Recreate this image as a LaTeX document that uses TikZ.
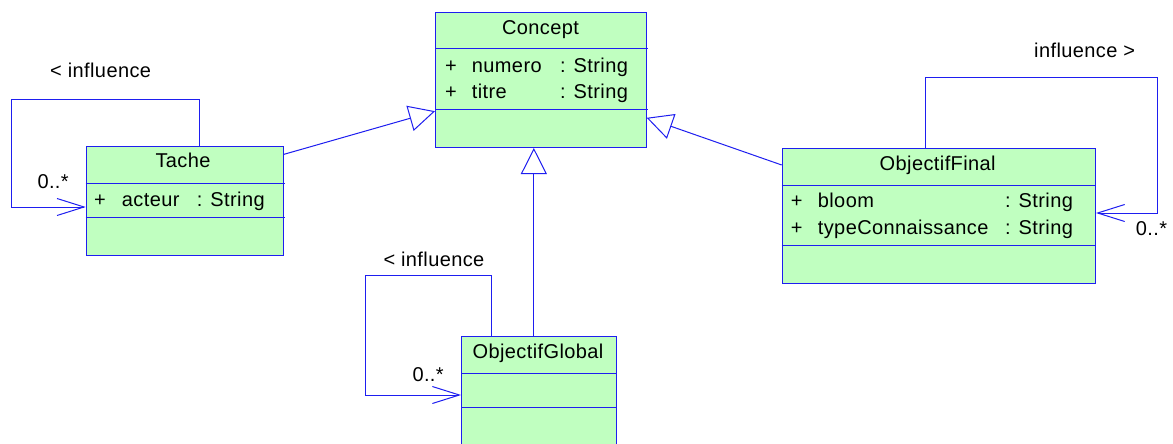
\documentclass[tikz,border=0pt]{standalone}
\usepackage{fontspec}
\setmainfont[LetterSpace=2]{Liberation Sans}
\usetikzlibrary{arrows.meta}
\definecolor{umlgreen}{RGB}{192,255,192}
\definecolor{umlblue}{RGB}{30,30,240}
\tikzset{
  classbox/.style={draw=umlblue, fill=umlgreen, line width=1pt, inner sep=0pt, anchor=north west},
  divider/.style={draw=umlblue, line width=1pt},
  txt/.style={inner sep=0pt, anchor=base west, font=\fontsize{20}{22}\selectfont},
  ttl/.style={inner sep=0pt, anchor=base, font=\fontsize{20}{22}\selectfont},
  gen/.style={draw=umlblue, line width=1pt, -{Triangle[open, length=26pt, width=26pt, fill=white]}},
  assoc/.style={draw=umlblue, line width=1pt, -{Straight Barb[length=27pt, width=17pt]}},
}
\begin{document}
\begin{tikzpicture}[x=1pt,y=-1pt]
\clip (0,0) rectangle (1173,444);
\fill[white] (0,0) rectangle (1173,444);

% class boxes
\node[classbox, minimum width=210.7pt, minimum height=135pt] (concept) at (435,12) {};
\node[classbox, minimum width=197.3pt, minimum height=109.3pt] (tache) at (85.7,145.7) {};
\node[classbox, minimum width=313.3pt, minimum height=135pt] (of) at (781.7,147.7) {};
\node[classbox, minimum width=154.7pt, minimum height=130pt] (og) at (461,335.7) {};

% dividers
\draw[divider] (435,49) -- (648,49);
\draw[divider] (435,109) -- (648,109);
\draw[divider] (85.7,183) -- (285,183);
\draw[divider] (85.7,217) -- (285,217);
\draw[divider] (781.7,185.7) -- (1095,185.7);
\draw[divider] (781.7,245) -- (1095,245);
\draw[divider] (461,373) -- (617,373);
\draw[divider] (461,407) -- (617,407);

% Concept texts
\node[ttl] (tconcept) at (540.5,34.3) {Concept};
\node[txt] (cp1) at (445,72.7) {+};
\node[txt] (ca1) at (471.7,72.7) {numero};
\node[txt] (ct1) at (560,72.7) {: String};
\node[txt] (cp2) at (445,98.3) {+};
\node[txt] (ca2) at (471.7,98.3) {titre};
\node[txt] (ct2) at (560,98.3) {: String};

% Tache texts
\node[ttl] (ttache) at (183,167.7) {Tache};
\node[txt] (tp1) at (94,206.7) {+};
\node[txt] (ta1) at (121.7,206.7) {acteur};
\node[txt] (tt1) at (196.7,206.7) {: String};

% ObjectifFinal texts
\node[ttl] (tof) at (937.7,170) {ObjectifFinal};
\node[txt] (fp1) at (790.7,207.7) {+};
\node[txt] (fa1) at (817.7,207.7) {bloom};
\node[txt] (ft1) at (1005,207.7) {: String};
\node[txt] (fp2) at (790.7,234.3) {+};
\node[txt] (fa2) at (817.7,234.3) {typeConnaissance};
\node[txt] (ft2) at (1005,234.3) {: String};

% ObjectifGlobal text
\node[ttl] (tog) at (538,358.3) {ObjectifGlobal};

% generalizations
\draw[gen] ([yshift=-8.6pt]tache.north east) -- ([yshift=-31.2pt]concept.west);
\draw[gen] ([yshift=-17.3pt]of.north west) -- ([yshift=-37.8pt]concept.east);
\coordinate (ogtop) at ([xshift=-5pt]og.north);
\draw[gen] (ogtop) -- (ogtop |- concept.south);

% self associations
\coordinate (tA) at (199,99);
\coordinate (tB) at (11.7,207);
\draw[assoc] (tache.north -| tA) -- (tA) -| (tB) -- (tB -| tache.west);
\node[txt] (tl1) at (50,77.3) {< influence};
\node[txt] (tl2) at (37.3,188.3) {0..*};

\coordinate (fA) at (925,77.7);
\coordinate (fB) at (1157,213);
\draw[assoc] (of.north -| fA) -- (fA) -| (fB) -- (fB -| of.east);
\node[txt] (fl1) at (1034,57.3) {influence >};
\node[txt] (fl2) at (1135.7,235) {0..*};

\coordinate (gA) at (491,275.7);
\coordinate (gB) at (365,395);
\draw[assoc] (og.north -| gA) -- (gA) -| (gB) -- (gB -| og.west);
\node[txt] (gl1) at (383.3,266) {< influence};
\node[txt] (gl2) at (412.3,381.7) {0..*};
\end{tikzpicture}
\end{document}
